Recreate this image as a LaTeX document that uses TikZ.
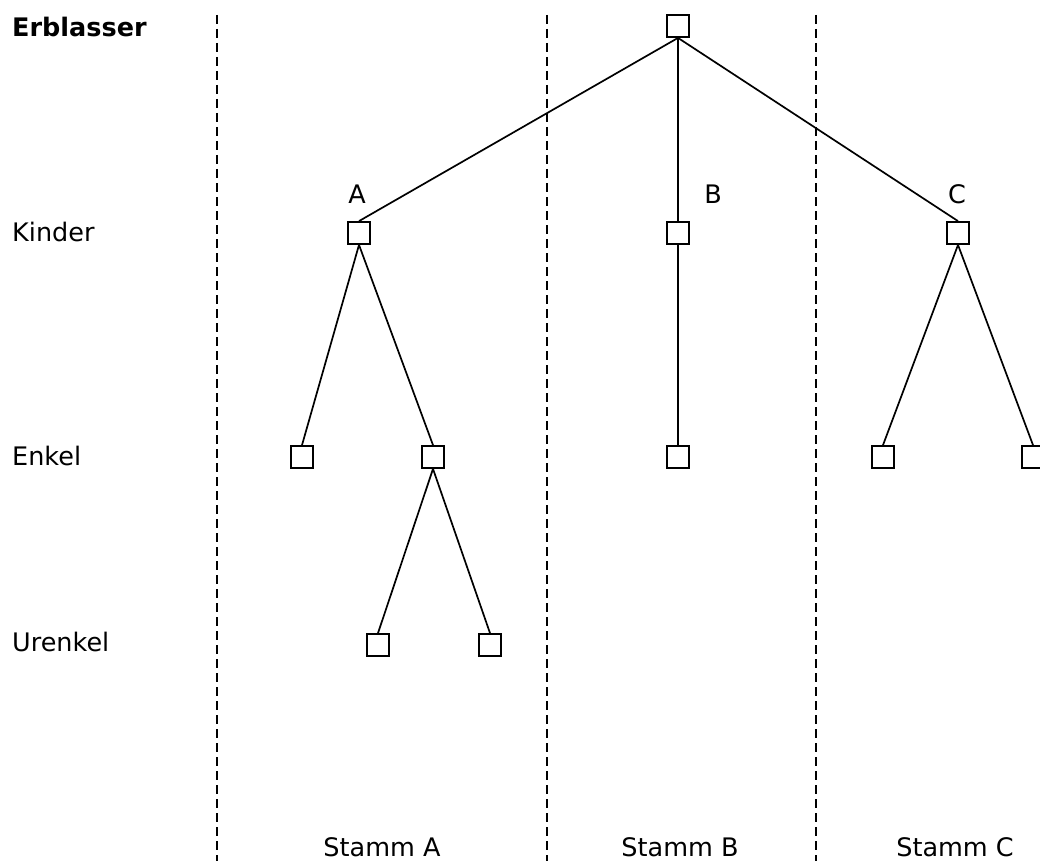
\documentclass[tikz,border=0pt]{standalone}
\usepackage{fontspec}
\setmainfont{DejaVu Sans}
\begin{document}
\begin{tikzpicture}[x=1pt,y=-1pt,
  person/.style={draw,line width=1.8pt,minimum size=22pt,inner sep=0pt},
  conn/.style={line width=1.7pt},
  sep/.style={line width=1.3pt,dash pattern=on 9pt off 5pt},
  lbl/.style={font=\fontsize{25.5}{30}\selectfont,inner sep=0pt},
  stamm/.style={lbl,anchor=base,text depth=0pt}]
\useasboundingbox (0,0) rectangle (1040,861);
\begin{scope}
\clip (0,0) rectangle (1040,861);
% generation labels
\node[lbl,anchor=west,font=\fontsize{25.5}{30}\selectfont\bfseries] (erb) at (12,27) {Erblasser};
\node[lbl,anchor=west] (kin) at (12,232) {Kinder};
\node[lbl,anchor=west] (enk) at (12,456) {Enkel};
\node[lbl,anchor=west] (ure) at (12,642) {Urenkel};
% separators
\coordinate (s1t) at (217,15); \coordinate (s1b) at (217,861);
\coordinate (s2t) at (547,15); \coordinate (s2b) at (547,861);
\coordinate (s3t) at (816,15); \coordinate (s3b) at (816,861);
\draw[sep] (s1t) -- (s1b);
\draw[sep] (s2t) -- (s2b);
\draw[sep] (s3t) -- (s3b);
% persons
\node[person] (root) at (678,26) {};
\node[person] (a) at (359,233) {};
\node[person] (b) at (678,233) {};
\node[person] (c) at (958,233) {};
\node[person] (a1) at (302,457) {};
\node[person] (a2) at (433,457) {};
\node[person] (b1) at (678,457) {};
\node[person] (c1) at (883,457) {};
\node[person] (c2) at (1033,457) {};
\node[person] (a21) at (378,645) {};
\node[person] (a22) at (490,645) {};
% letters
\node[lbl] (la) at (357,194) {A};
\node[lbl] (lb) at (713,194) {B};
\node[lbl] (lc) at (957,194) {C};
% stamm labels
\node[stamm] (sa) at (382,856) {Stamm A};
\node[stamm] (sb) at (680,856) {Stamm B};
\node[stamm] (sc) at (955,856) {Stamm C};
% connectors
\draw[conn] (root.south) -- (a.north);
\draw[conn] (root.south) -- (b.north);
\draw[conn] (root.south) -- (c.north);
\draw[conn] (a.south) -- (a1.north);
\draw[conn] (a.south) -- (a2.north);
\draw[conn] (b.south) -- (b1.north);
\draw[conn] (c.south) -- (c1.north);
\draw[conn] (c.south) -- (c2.north);
\draw[conn] (a2.south) -- (a21.north);
\draw[conn] (a2.south) -- (a22.north);
\end{scope}
\end{tikzpicture}
\end{document}
